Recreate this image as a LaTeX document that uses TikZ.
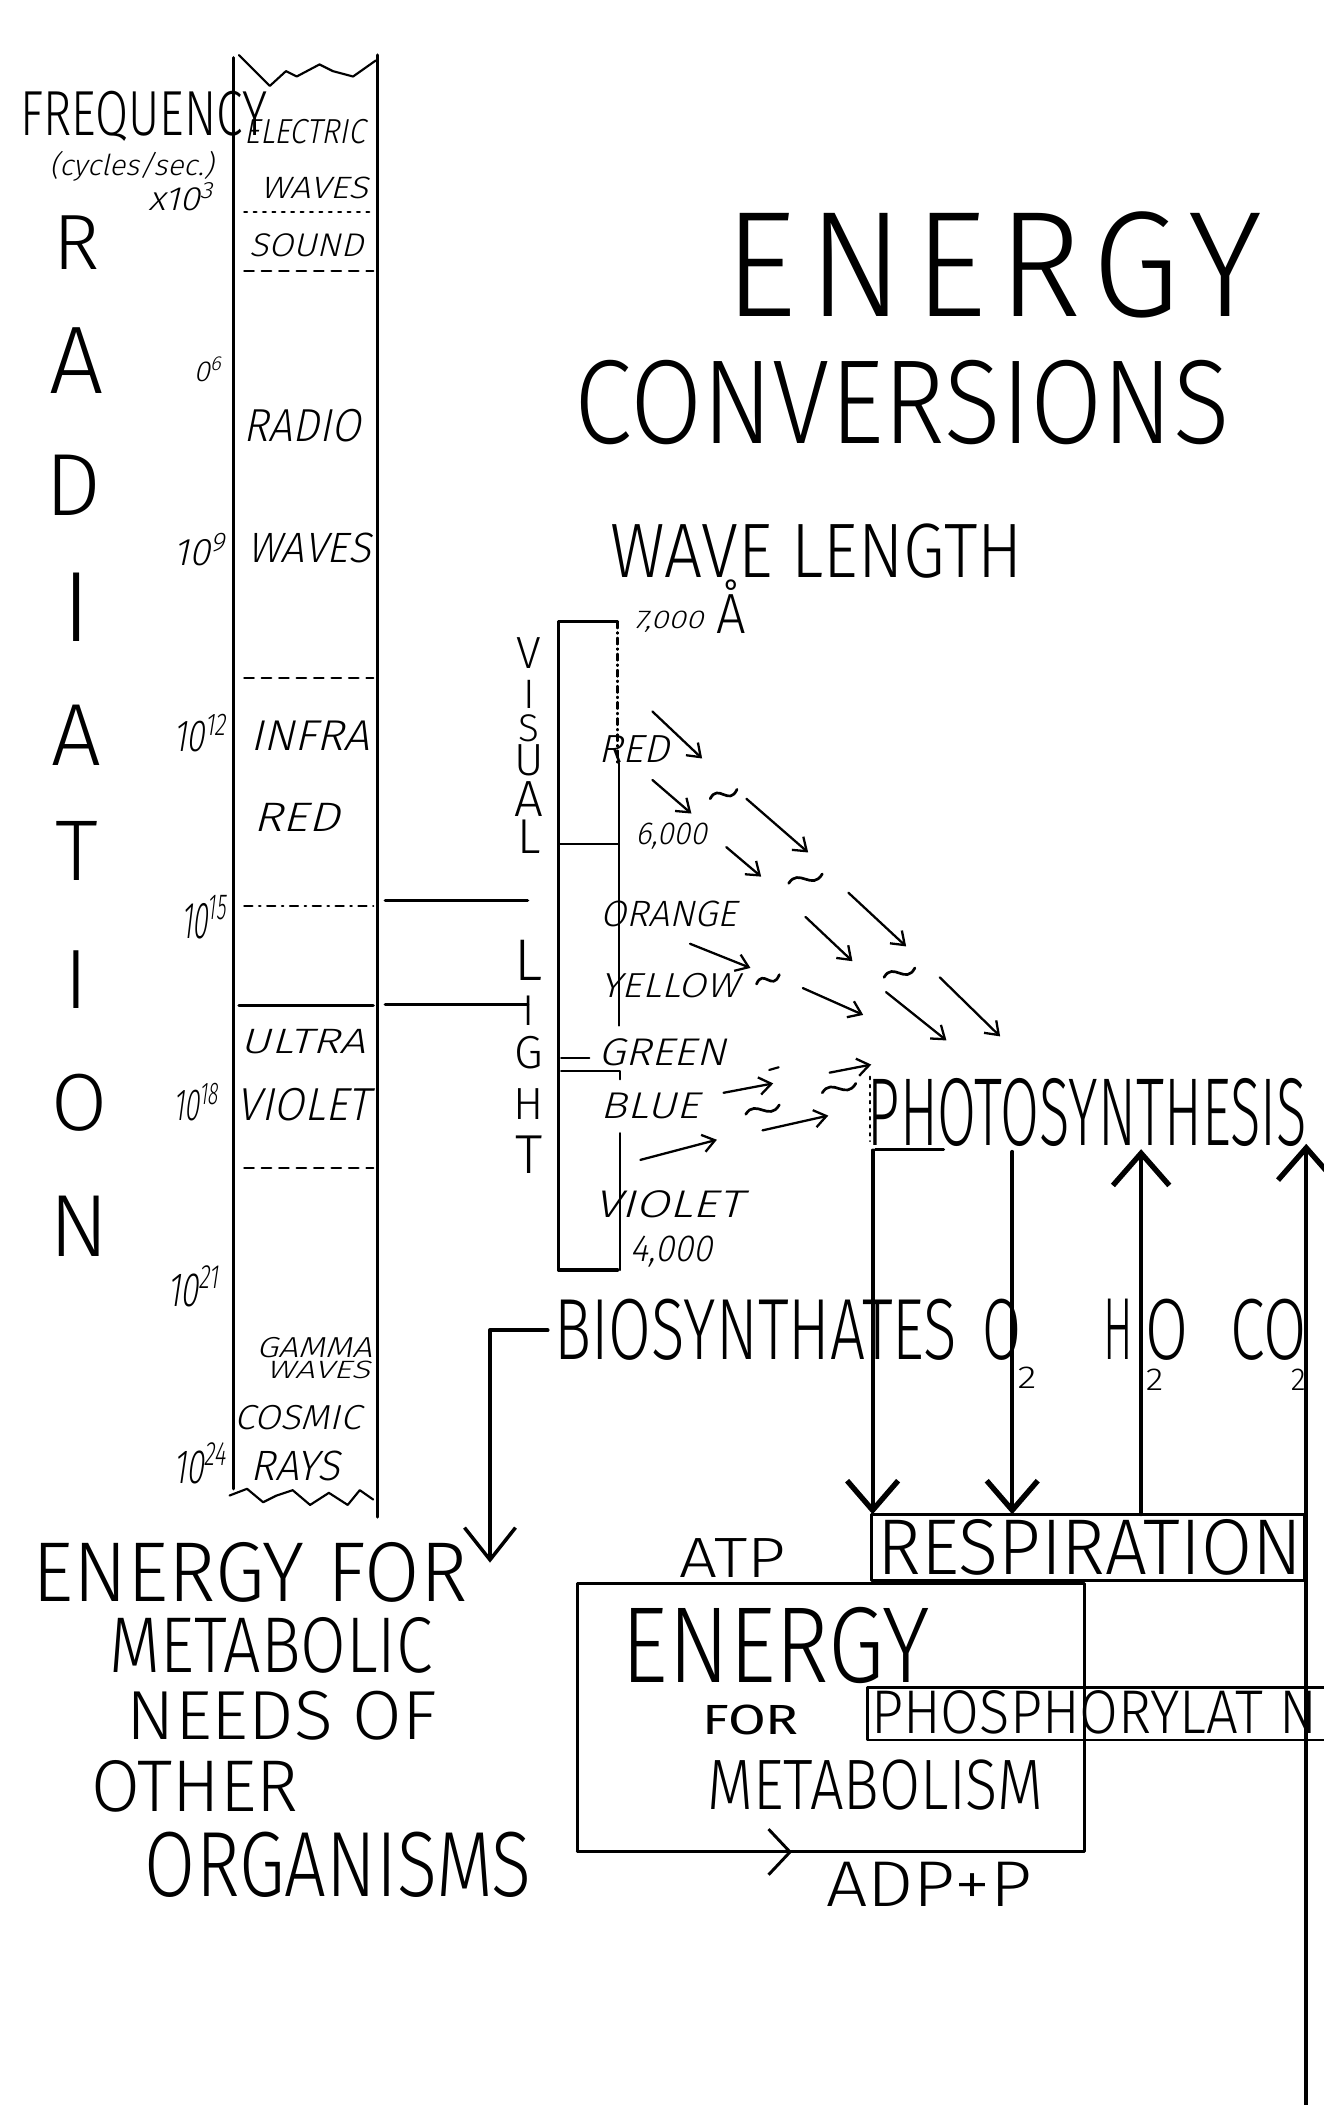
\documentclass[tikz,border=0pt]{standalone}
\usepackage{fontspec}
\usepackage{graphicx}
\usetikzlibrary{arrows.meta}
\IfFontExistsTF{Fira Sans Light}
  {\newfontfamily\handfont{Fira Sans Light}%
   \newfontfamily\handit[FakeSlant=0.22]{Fira Sans Light}}
  {\newfontfamily\handfont{Fira Sans}%
   \newfontfamily\handit[FakeSlant=0.22]{Fira Sans}}
\newfontfamily\handbold{Fira Sans}
\newcommand\fitU[3]{\resizebox{#1pt}{#2pt}{\handfont #3}}
\newcommand\fitI[3]{\resizebox{#1pt}{#2pt}{\handit #3}}
\newcommand\fitB[3]{\resizebox{#1pt}{#2pt}{\handbold #3}}
\newcommand\fitH[2]{\resizebox{!}{#1pt}{\handfont #2}}
\newcommand\tld[3]{\draw[tild] ({#1-#3/2},{#2+3}) .. controls ({#1-#3/5},{#2-9}) and ({#1+#3/5},{#2+9}) .. ({#1+#3/2},{#2-4});}
\begin{document}
\begin{tikzpicture}[x=1pt,y=-1pt,line cap=round,line join=round,
  every node/.style={inner sep=0pt,outer sep=0pt},
  lb/.style={anchor=base},
  rule/.style={line width=2.5pt},
  hair/.style={line width=1.6pt},
  dsh/.style={line width=1.8pt,dash pattern=on 7pt off 6pt},
  dotl/.style={line width=1.8pt,dash pattern=on 2pt off 5pt},
  thinarrow/.style={line width=1.7pt,-{Straight Barb[length=9pt,width=13pt,line width=1.7pt]}},
  bigdown/.style={line width=3pt,-{Straight Barb[length=22pt,width=38pt,line width=4pt]}},
  bigup/.style={line width=2.8pt,-{Straight Barb[length=24pt,width=42pt,line width=4pt]}},
  tild/.style={line width=2pt}]
\useasboundingbox[fill=white] (0,0) rectangle (986,1568);

% ---------- radiation column ----------
\coordinate (ctl) at (174,43);  \coordinate (cbl) at (174,1109);
\coordinate (ctr) at (281,41);  \coordinate (cbr) at (281,1130);
\draw[rule] (ctl) -- (cbl);
\draw[rule] (ctr) -- (cbr);
\draw[hair] (178,41) -- (201,64) -- (213,53) -- (221,57) -- (238,48) -- (248,53) -- (263,57) -- (280,45);
\draw[hair] (171,1114) -- (184,1109) -- (196,1119) -- (206,1114) -- (218,1110) -- (231,1121) -- (245,1112) -- (259,1121) -- (268,1110) -- (278,1117);
\draw[dotl] (182,158) -- (276,158);
\draw[dsh] (182,202) -- (278,202);
\draw[dsh] (182,505) -- (278,505);
\draw[line width=1.8pt,dash pattern=on 6pt off 5pt on 1pt off 5pt] (182,675) -- (278,675);
\draw[rule] (178,749) -- (278,749);
\draw[dsh] (182,870) -- (278,870);

\node[lb] (freq) at (107,101) {\fitU{184}{33}{FREQUENCY}};
\node[lb] (cyc) at (98,131) {\fitI{122}{18}{(cycles/sec.)}};
\node[lb] (x3) at (135,157) {\fitI{49}{21}{x10\textsuperscript{3}}};

\node[lb] (r1) at (57,201) {\fitH{40}{R}};
\node[lb] (r2) at (57,293) {\fitH{49}{A}};
\node[lb] (r3) at (55,384) {\fitH{45}{D}};
\node[lb] (r4) at (57,478) {\fitH{51}{I}};
\node[lb] (r5) at (57,570) {\fitH{45}{A}};
\node[lb] (r6) at (57,656) {\fitH{44}{T}};
\node[lb] (r7) at (57,751) {\fitH{43}{I}};
\node[lb] (r8) at (59,842) {\fitH{42}{O}};
\node[lb] (r9) at (59,936) {\fitH{45}{N}};

\node[lb] (c1) at (227,107) {\fitI{90}{18}{ELECTRIC}};
\node[lb] (c2) at (234,148) {\fitI{80}{16}{WAVES}};
\node[lb] (c3) at (228,191) {\fitI{85}{17}{SOUND}};
\node[lb] (c4) at (225,329) {\fitI{87}{24}{RADIO}};
\node[lb] (c5) at (230,419) {\fitI{92}{22}{WAVES}};
\node[lb] (c6) at (231,559) {\fitI{89}{22}{INFRA}};
\node[lb] (c7) at (221,619) {\fitI{64}{21}{RED}};
\node[lb] (c8) at (226,785) {\fitI{93}{18}{ULTRA}};
\node[lb] (c9) at (226,835) {\fitI{99}{24}{VIOLET}};
\node[lb] (c10) at (234,1011) {\fitI{86}{15}{GAMMA}};
\node[lb] (c11) at (237,1027) {\fitI{77}{13}{WAVES}};
\node[lb] (c12) at (222,1065) {\fitI{94}{18}{COSMIC}};
\node[lb] (c13) at (220,1103) {\fitI{67}{22}{RAYS}};

\node[lb] (e6) at (155,284) {\fitI{21}{18}{0\textsuperscript{6}}};
\node[lb] (e9) at (149,421) {\fitI{39}{24}{10\textsuperscript{9}}};
\node[lb] (e12) at (149,560) {\fitI{40}{28}{10\textsuperscript{12}}};
\node[lb] (e15) at (152,699) {\fitI{34}{32}{10\textsuperscript{15}}};
\node[lb] (e18) at (146,835) {\fitI{34}{28}{10\textsuperscript{18}}};
\node[lb] (e21) at (144,973) {\fitI{39}{30}{10\textsuperscript{21}}};
\node[lb] (e24) at (149,1105) {\fitI{40}{30}{10\textsuperscript{24}}};

% ---------- titles ----------
\node[lb] (t1) at (740,236) {\fitU{400}{78}{\addfontfeature{LetterSpace=8}ENERGY}};
\node[lb] (t2) at (672,330) {\fitU{488}{62}{CONVERSIONS}};
\node[lb] (wl) at (608,430) {\fitU{307}{40}{WAVE LENGTH}};

% ---------- visual light ----------
\coordinate (cl1) at (287,671); \coordinate (vl1) at (393,671);
\coordinate (cl2) at (287,748); \coordinate (vl2) at (393,748);
\draw[rule] (cl1) -- (vl1);
\draw[rule] (cl2) -- (vl2);
\draw[rule] (460,463) -- (416,463) -- (416,946) -- (460,946);
\draw[hair,dash pattern=on 5pt off 3pt on 1pt off 3pt] (460,463) -- (460,568);
\draw[hair] (461,568) -- (461,764);
\draw[hair] (416,629) -- (460,629);
\draw[hair] (418,788) -- (439,788);
\draw[hair] (418,798) -- (462,798) -- (462,804);
\draw[hair] (462,844) -- (462,946);

\node[lb] (v1) at (394,498) {\fitH{23}{V}};
\node[lb] (v2) at (394,528) {\fitH{21}{I}};
\node[lb] (v3) at (394,552) {\fitH{20}{S}};
\node[lb] (v4) at (394,578) {\fitH{23}{U}};
\node[lb] (v5) at (394,608) {\fitH{26}{A}};
\node[lb] (v6) at (394,636) {\fitH{25}{L}};
\node[lb] (g1) at (394,730) {\fitH{30}{L}};
\node[lb] (g2) at (394,764) {\fitH{22}{I}};
\node[lb] (g3) at (394,796) {\fitH{24}{G}};
\node[lb] (g4) at (394,834) {\fitH{23}{H}};
\node[lb] (g5) at (394,874) {\fitH{28}{T}};

\node[lb] (w7) at (498,468) {\fitI{52}{13}{7,000}};
\node[lb] (ang) at (545,472) {\fitU{22}{40}{Å}};
\node[lb] (red) at (472,568) {\fitI{53}{20}{RED}};
\node[lb] (w6) at (500,629) {\fitI{53}{16}{6,000}};
\node[lb] (ora) at (498,690) {\fitI{102}{19}{ORANGE}};
\node[lb] (yel) at (499,743) {\fitI{103}{18}{YELLOW}};
\node[lb] (gre) at (493,794) {\fitI{95}{20}{GREEN}};
\node[lb] (blu) at (484,833) {\fitI{73}{19}{BLUE}};
\node[lb] (vio) at (498,907) {\fitI{110}{20}{VIOLET}};
\node[lb] (w4) at (500,940) {\fitI{61}{19}{4,000}};

% light arrows and wiggles
\draw[thinarrow] (486,530) -- (523,565);
\draw[thinarrow] (486,581) -- (515,606);
\draw[thinarrow] (556,595) -- (602,635);
\draw[thinarrow] (541,631) -- (567,653);
\draw[thinarrow] (632,665) -- (675,705);
\draw[thinarrow] (600,683) -- (635,716);
\draw[thinarrow] (514,703) -- (559,721);
\draw[thinarrow] (598,736) -- (643,756);
\draw[thinarrow] (660,739) -- (705,775);
\draw[thinarrow] (700,728) -- (745,772);
\draw[thinarrow] (539,814) -- (576,807);
\draw[thinarrow] (568,842) -- (617,831);
\draw[thinarrow] (618,799) -- (649,793);
\draw[thinarrow] (477,864) -- (534,849);
\tld{539}{592}{20}
\tld{600}{655}{25}
\tld{572}{730}{17}
\tld{670}{725}{23}
\tld{568}{827}{25}
\tld{625}{811}{25}
\draw[hair] (573,797) -- (580,795);

% ---------- photosynthesis / respiration ----------
\node[lb] (photo) at (810,853) {\fitU{327}{50}{PHOTOSYNTHESIS}};
\draw[line width=2pt] (652,856) -- (703,856);
\draw[line width=1.4pt,dash pattern=on 2pt off 4pt] (648,802) -- (648,850);

\node[lb] (bio) at (563,1013) {\fitU{300}{45}{BIOSYNTHATES}};
\node[lb] (o2) at (746,1013) {\fitU{29}{45}{O}};
\node[lb] (o2s) at (765,1034) {\fitU{14}{16}{2}};
\node[lb] (h2) at (833,1013) {\fitU{22}{45}{H}};
\node[lb] (h2s) at (860,1036) {\fitU{13}{16}{2}};
\node[lb] (h2o) at (869,1013) {\fitU{32}{45}{O}};
\node[lb] (co) at (945,1013) {\fitU{57}{45}{CO}};
\node[lb] (cos) at (967,1036) {\fitU{11}{16}{2}};

\node[draw,line width=2.2pt,minimum width=323pt,minimum height=49pt] (respbox) at (810.5,1152.5) {};
\node[lb] (resp) at (812,1173) {\fitU{316}{41}{RESPIRATION}};

\coordinate (pd1) at (650,857);
\coordinate (pd2) at (754,858);
\coordinate (pu1) at (850,856);
\coordinate (pu2) at (973,852);
\coordinate (edge) at (973,1568);
\draw[bigdown] (pd1) -- (pd1 |- respbox.north);
\draw[bigdown] (pd2) -- (pd2 |- respbox.north);
\draw[bigup] (pu1 |- respbox.north) -- (pu1);
\draw[bigup] (edge) -- (pu2);

\coordinate (bioend) at (365,1164);
\draw[line width=2.8pt,shorten <=5pt,-{Straight Barb[length=24pt,width=38pt,line width=2.6pt]}] (bio.west) -| (bioend);

% ---------- energy for metabolism ----------
\node[draw,line width=2.2pt,minimum width=378pt,minimum height=200pt] (ebox) at (619,1279.5) {};
\node[lb] (atp) at (546,1175) {\fitU{79}{29}{ATP}};
\node[lb] (en) at (578,1253) {\fitU{230}{56}{ENERGY}};
\node[lb] (for) at (559,1292) {\fitB{72}{22}{FOR}};
\node[draw,line width=2pt,minimum width=346pt,minimum height=39pt] (phosbox) at (819,1276.5) {};
\node[lb] (phos) at (815,1291) {\fitU{332}{32}{PHOSPHORYLAT N}};
\node[lb] (meta) at (652,1348) {\fitU{250}{37}{METABOLISM}};
\draw[line width=2.2pt,-{Straight Barb[length=16pt,width=34pt,line width=2.2pt]}] (ebox.south west) -- ++(160,0);
\node[lb] (adp) at (692,1420) {\fitU{153}{33}{ADP+P}};

% ---------- other organisms ----------
\node[lb] (o1) at (186,1193) {\fitU{324}{44}{ENERGY FOR}};
\node[lb] (o2l) at (202,1246) {\fitU{241}{41}{METABOLIC}};
\node[lb] (o3) at (210,1296) {\fitU{231}{36}{NEEDS OF}};
\node[lb] (o4) at (145,1349) {\fitU{154}{38}{OTHER}};
\node[lb] (o5) at (252,1413) {\fitU{288}{48}{ORGANISMS}};
\end{tikzpicture}
\end{document}
